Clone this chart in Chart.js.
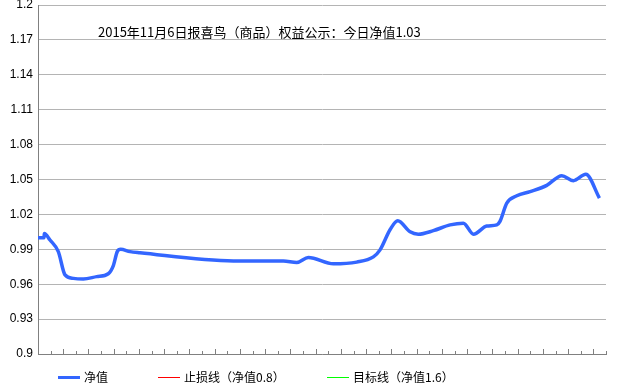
<!DOCTYPE html>
<html>
<head>
<meta charset="utf-8">
<script src="https://cdn.jsdelivr.net/npm/chart.js@4/dist/chart.umd.min.js"></script>
<style>
  body { margin: 0; background: #fff; }
  #wrap { position: relative; width: 640px; height: 388px; }
  #title { position: absolute; left: 98px; top: 22px; font: 13px "Noto Sans CJK SC"; color: #000; white-space: nowrap; }
  .leg { position: absolute; top: 368px; height: 18px; line-height: 18px; font: 12px "Noto Sans CJK SC"; color: #000; white-space: nowrap; }
  .leg i { position: absolute; left: 0; width: 22px; height: 0; }
  .leg span { position: absolute; left: 26px; top: 0; }
</style>
</head>
<body>
<div id="wrap">
  <canvas id="myChart" width="640" height="388"></canvas>
  <div id="title">2015年11月6日报喜鸟（商品）权益公示：今日净值1.03</div>
  <div class="leg" style="left:58px"><i style="top:8px;border-top:3px solid #3366ff"></i><span>净值</span></div>
  <div class="leg" style="left:158px"><i style="top:9px;border-top:1px solid #ff0000"></i><span>止损线（净值0.8）</span></div>
  <div class="leg" style="left:327px"><i style="top:9px;border-top:1px solid #00ff00"></i><span>目标线（净值1.6）</span></div>
</div>
<script>
// x position of each reading, in tick units (45 ticks on the axis)
var days = [0, 0.48, 0.5, 0.95, 1.61, 2.14, 2.8, 3.59, 4.65, 5.57, 5.97, 6.28, 6.55, 7.29, 8.08,
  15.48, 19.44, 20.5, 21.42, 23.4, 25.25, 26.57, 27.1, 27.9, 28.5, 29.48, 30.13, 31.32, 32.65,
  33.7, 34.5, 35.55, 36.35, 36.6, 37.14, 37.93, 38.99, 40.31, 41.5, 42.42, 43.4, 44.48];
var netValue = [1.000, 1.000, 1.0035, 0.998, 0.988, 0.968, 0.965, 0.9645, 0.9665, 0.969, 0.976,
  0.988, 0.990, 0.988, 0.987, 0.980, 0.980, 0.9787, 0.983, 0.9775, 0.979, 0.9835, 0.9895, 1.007,
  1.0145, 1.005, 1.003, 1.006, 1.011, 1.0125, 1.003, 1.010, 1.011, 1.014, 1.0297, 1.036, 1.0396,
  1.045, 1.0533, 1.049, 1.0545, 1.034];
var stopLoss = 0.8;
var target = 1.6;
var yTicks = [0.9, 0.93, 0.96, 0.99, 1.02, 1.05, 1.08, 1.11, 1.14, 1.17, 1.2];
var xTickCount = 45;

var points = days.map(function(d, i) { return {x: d, y: netValue[i]}; });

// small tick marks pointing up into the plot, alternating long / short
var xTickMarks = {
  id: 'xTickMarks',
  afterDraw: function(chart) {
    var x = chart.scales.x, ctx = chart.ctx, bottom = chart.chartArea.bottom;
    ctx.save();
    ctx.strokeStyle = '#808080';
    ctx.lineWidth = 1;
    for (var i = 1; i <= xTickCount; i++) {
      var px = Math.round(x.getPixelForValue(i)) + 0.5;
      var len = i % 2 === 0 ? 5 : 3;
      ctx.beginPath();
      ctx.moveTo(px, bottom);
      ctx.lineTo(px, bottom - len);
      ctx.stroke();
    }
    ctx.restore();
  }
};

var ctx = document.getElementById('myChart').getContext('2d');
var myChart = new Chart(ctx, {
  type: 'line',
  data: {
    datasets: [{
      label: '净值',
      data: points,
      borderColor: '#3366ff',
      borderWidth: 3.5,
      pointRadius: 0,
      cubicInterpolationMode: 'monotone'
    }, {
      label: '止损线（净值0.8）',
      data: [{x: 0, y: stopLoss}, {x: xTickCount, y: stopLoss}],
      borderColor: '#ff0000',
      borderWidth: 1,
      pointRadius: 0
    }, {
      label: '目标线（净值1.6）',
      data: [{x: 0, y: target}, {x: xTickCount, y: target}],
      borderColor: '#00ff00',
      borderWidth: 1,
      pointRadius: 0
    }]
  },
  options: {
    responsive: false,
    animation: false,
    layout: { padding: { top: 5, right: 34, bottom: 34, left: 0 } },
    plugins: { legend: { display: false }, tooltip: { enabled: false } },
    scales: {
      x: {
        type: 'linear',
        min: 0,
        max: xTickCount,
        ticks: { display: false },
        grid: { display: false },
        border: { color: '#808080', width: 1 },
        afterFit: function(s) { s.height = 0; s.paddingLeft = 0; s.paddingRight = 0; }
      },
      y: {
        min: 0.9,
        max: 1.2,
        afterBuildTicks: function(s) { s.ticks = yTicks.map(function(v) { return {value: v}; }); },
        afterFit: function(s) { s.width = 38; s.paddingTop = 0; s.paddingBottom = 0; },
        ticks: {
          padding: 5,
          color: '#000',
          font: { family: 'Liberation Sans', size: 12 },
          callback: function(v) { return String(v); }
        },
        grid: { color: '#b4b4b4', drawTicks: false },
        border: { color: '#808080', width: 1 }
      }
    }
  },
  plugins: [xTickMarks]
});
</script>
</body>
</html>
